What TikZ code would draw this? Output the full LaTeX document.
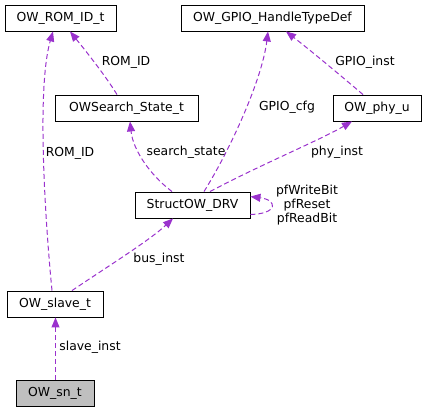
\documentclass[tikz,border=0pt]{standalone}
\usepackage{fontspec}
\setmainfont{DejaVu Sans}
\usetikzlibrary{arrows.meta}
\definecolor{relpurple}{HTML}{9A32CD}
\definecolor{leafgray}{HTML}{BFBFBF}
\begin{document}
\begin{tikzpicture}[x=1pt,y=-1pt,>={Triangle[length=10pt,width=8pt]},
	cls/.style={draw=black,line width=0.9pt,fill=white,minimum height=26pt,inner sep=0pt,font=\fontsize{12.4}{14}\selectfont},
	rel/.style={draw=relpurple,line width=1pt,dash pattern=on 5pt off 3pt,->},
	lbl/.style={inner sep=0pt,font=\fontsize{12.4}{13.6}\selectfont}]
			\useasboundingbox (0,0) rectangle (426,412);
			% classes
			\node[cls,minimum width=111pt] (romid) at (60.5,18) {OW\_ROM\_ID\_t};
			\node[cls,minimum width=183pt] (gpio) at (272.5,18) {OW\_GPIO\_HandleTypeDef};
			\node[cls,minimum width=143pt] (search) at (126.5,108) {OWSearch\_State\_t};
			\node[cls,minimum width=88pt] (phy) at (377,108) {OW\_phy\_u};
			\node[cls,minimum width=115pt] (drv) at (192.5,205) {StructOW\_DRV};
			\node[cls,minimum width=96pt] (slave) at (55,304) {OW\_slave\_t};
			\node[cls,minimum width=78pt,fill=leafgray] (sn) at (55,393) {OW\_sn\_t};
			% relations
			\draw[rel] ([xshift=-3pt]slave.north) .. controls (46,230) and (36,90) .. ([xshift=-7.5pt]romid.south);
			\draw[rel] ([xshift=-9.5pt]search.north) .. controls (105,75) and (85,50) .. ([xshift=9.5pt]romid.south);
			\draw[rel] ([xshift=-20.5pt]drv.north) .. controls (150,175) and (133,150) .. ([xshift=3.5pt]search.south);
			\draw[rel] ([xshift=11.5pt]drv.north) .. controls (230,150) and (262,80) .. ([xshift=-4.5pt]gpio.south);
			\draw[rel] ([xshift=-14pt]phy.north) .. controls (340,75) and (310,50) .. ([xshift=13.5pt]gpio.south);
			\draw[rel] ([xshift=17.5pt]drv.north) .. controls (260,165) and (320,140) .. ([xshift=-25pt]phy.south);
			\draw[rel] ([yshift=4pt]drv.south east) .. controls (278,214) and (278,200) .. ([yshift=-5pt]drv.north east);
			\draw[rel] ([xshift=17pt]slave.north) .. controls (110,265) and (150,240) .. ([xshift=-19.5pt]drv.south);
			\draw[rel] ([xshift=0.5pt]sn.north) -- ([xshift=0.5pt]slave.south);
			% labels
			\node[lbl] (lromida) at (70,153) {ROM\_ID};
			\node[lbl] (lromidb) at (126,62) {ROM\_ID};
			\node[lbl] (lsearch) at (186,152) {search\_state};
			\node[lbl] (lcfg) at (287,107) {GPIO\_cfg};
			\node[lbl] (linst) at (365,62) {GPIO\_inst};
			\node[lbl] (lphy) at (337,152) {phy\_inst};
			\node[lbl,align=center] (lpf) at (307,205) {pfWriteBit\\pfReset\\pfReadBit};
			\node[lbl] (lbus) at (159,259) {bus\_inst};
			\node[lbl] (lslave) at (90,347) {slave\_inst};
	\end{tikzpicture}
\end{document}
